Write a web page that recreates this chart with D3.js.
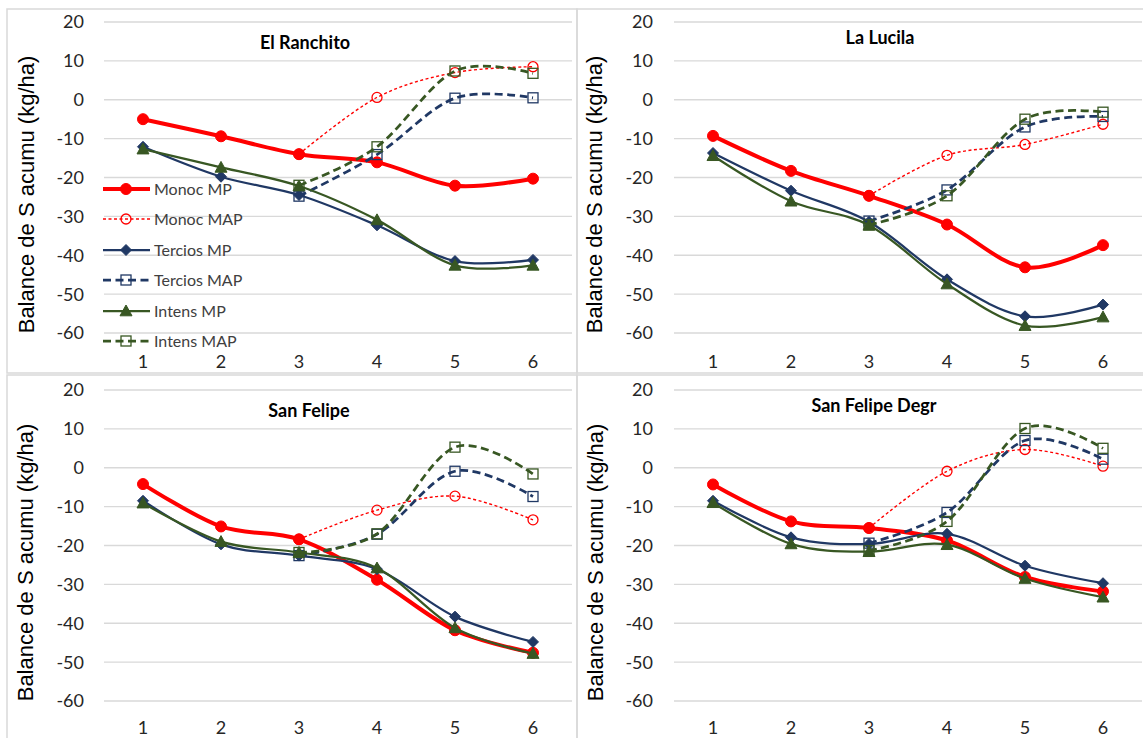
<!DOCTYPE html>
<html>
<head>
<meta charset="utf-8">
<script src="https://cdn.jsdelivr.net/npm/d3@7"></script>
<style>
body{margin:0;background:#fff;}
svg{display:block;}
</style>
</head>
<body>
<svg id="chart" width="1143" height="738"></svg>
<script>
// categorias eje x
var categories=["1","2","3","4","5","6"];
var yTicks=[20,10,0,-10,-20,-30,-40,-50,-60];
var seriesNames=["Monoc MP","Monoc MAP","Tercios MP","Tercios MAP","Intens MP","Intens MAP"];
var panelTitles=["El Ranchito","La Lucila","San Felipe","San Felipe Degr"];
var yTitle="Balance de S acumu (kg/ha)";

// valores leidos por sitio (null = sin dato)
var elRanchito=[
	[-5.0,-9.4,-14.0,-16.1,-22.1,-20.3],
	[null,null,-14.0,0.6,7.0,8.5],
	[-12.1,-19.8,-24.5,-32.3,-41.5,-41.2],
	[null,null,-24.8,-14.1,0.4,0.5],
	[-12.7,-17.4,-22.2,-30.9,-42.6,-42.6],
	[null,null,-22.0,-12.1,7.4,6.8]
];
var laLucila=[
	[-9.3,-18.3,-24.7,-32.1,-43.1,-37.4],
	[null,null,-24.7,-14.3,-11.5,-6.3],
	[-13.7,-23.4,-31.4,-46.2,-55.7,-52.7],
	[null,null,-31.2,-23.2,-7.0,-4.3],
	[-14.4,-26.1,-32.3,-47.4,-58.1,-55.9],
	[null,null,-32.2,-24.7,-5.0,-3.2]
];
var sanFelipe=[
	[-4.2,-15.1,-18.4,-28.8,-41.8,-47.6],
	[null,null,-18.4,-10.9,-7.3,-13.4],
	[-8.5,-19.7,-22.6,-26.1,-38.3,-44.8],
	[null,null,-22.6,-17.1,-0.9,-7.4],
	[-9.1,-19.0,-21.8,-25.8,-41.2,-47.8],
	[null,null,-21.8,-17.0,5.3,-1.6]
];
var sanFelipeDegr=[
	[-4.3,-13.8,-15.5,-18.7,-28.1,-31.8],
	[null,null,-15.5,-0.9,4.7,0.4],
	[-8.5,-17.9,-19.6,-17.0,-25.2,-29.7],
	[null,null,-19.4,-11.5,7.0,2.2],
	[-9.0,-19.6,-21.6,-19.8,-28.5,-33.3],
	[null,null,-21.3,-13.8,10.1,5.0]
];
var panelData=[elRanchito,laLucila,sanFelipe,sanFelipeDegr];

var red="#ff0000",navy="#203864",green="#385723";
var styles=[
	{color:red,width:4,dash:null,marker:"circle",fill:true,size:5.5},
	{color:red,width:1.4,dash:"3,2.5",marker:"circle",fill:false,size:5},
	{color:navy,width:2.25,dash:null,marker:"diamond",fill:true,size:5.5},
	{color:navy,width:2.75,dash:"8,4.5",marker:"square",fill:false,size:5},
	{color:green,width:2.25,dash:null,marker:"triangle",fill:true,size:6},
	{color:green,width:2.75,dash:"8,4.5",marker:"square",fill:false,size:5}
];

var layout=[
	{bx:7,by:9,bw:570,bh:364,left:104,right:572,top:22,bottom:333,tx:305,ty:49,lab:84,ax:26,xl:368},
	{bx:577,by:9,bw:570,bh:364,left:674,right:1142,top:22,bottom:333,tx:880,ty:44,lab:653,ax:594,xl:368},
	{bx:7,by:375,bw:570,bh:370,left:104,right:572,top:390,bottom:701,tx:309,ty:417,lab:84,ax:25,xl:734},
	{bx:577,by:375,bw:570,bh:370,left:674,right:1142,top:390,bottom:701,tx:874,ty:412,lab:653,ax:595,xl:734}
];

var svg=d3.select("#chart");

function drawMarker(g,type,x,y,st){
	var m;
	if(type=="circle"){
		m=g.append("circle").attr("cx",x).attr("cy",y).attr("r",st.size);
	}else if(type=="square"){
		m=g.append("rect").attr("x",x-st.size).attr("y",y-st.size).attr("width",st.size*2).attr("height",st.size*2);
	}else if(type=="diamond"){
		var s=st.size;
		m=g.append("path").attr("d","M"+x+","+(y-s)+"L"+(x+s)+","+y+"L"+x+","+(y+s)+"L"+(x-s)+","+y+"Z");
	}else{
		var s=st.size;
		m=g.append("path").attr("d","M"+x+","+(y-s)+"L"+(x+s)+","+(y+s*0.8)+"L"+(x-s)+","+(y+s*0.8)+"Z");
	}
	if(st.fill){
		m.attr("fill",st.color).attr("stroke",st.color).attr("stroke-width",1);
	}else{
		m.attr("fill","none").attr("stroke",st.color).attr("stroke-width",1.3);
	}
}

function drawPanel(p,data,title){
	var L=layout[p];
	var g=svg.append("g");

	g.append("rect").attr("x",L.bx).attr("y",L.by).attr("width",L.bw).attr("height",L.bh)
		.attr("fill","none").attr("stroke","#d9d9d9").attr("stroke-width",1.5);

	var x=d3.scalePoint().domain(categories).range([L.left,L.right]).padding(0.5);
	var y=d3.scaleLinear().domain([-60,20]).range([L.bottom,L.top]);

	// grid
	g.selectAll(".grid").data(yTicks).enter().append("line")
		.attr("x1",L.left).attr("x2",L.right)
		.attr("y1",d=>y(d)).attr("y2",d=>y(d))
		.attr("stroke","#d9d9d9").attr("stroke-width",1.3);

	g.selectAll(".ylab").data(yTicks).enter().append("text")
		.attr("x",L.lab).attr("y",d=>y(d)).attr("dy","0.36em")
		.attr("text-anchor","end")
		.style("font-family","Lato, sans-serif").style("font-size","18px").attr("fill","#262626")
		.text(d=>d);

	g.selectAll(".xlab").data(categories).enter().append("text")
		.attr("x",d=>x(d)).attr("y",L.xl)
		.attr("text-anchor","middle")
		.style("font-family","Lato, sans-serif").style("font-size","18px").attr("fill","#262626")
		.text(d=>d);

	g.append("text")
		.attr("transform","translate("+L.ax+","+((L.top+L.bottom)/2+17)+") rotate(-90)")
		.attr("text-anchor","middle").attr("dy","0.36em")
		.style("font-family","'Liberation Sans', Arial, sans-serif").style("font-size","22px").attr("fill","#000")
		.text(yTitle);

	g.append("text").attr("x",L.tx).attr("y",L.ty).attr("text-anchor","middle")
		.style("font-family","Lato, sans-serif").style("font-size","18px").style("font-weight","bold").attr("fill","#000")
		.text(title);

	var line=d3.line()
		.defined(d=>d.v!=null)
		.x(d=>x(d.c)).y(d=>y(d.v))
		.curve(d3.curveCardinal.tension(0));

	for(var s=0;s<data.length;s++){
		var st=styles[s];
		var pts=categories.map(function(c,i){return {c:c,v:data[s][i]};});
		var path=g.append("path").datum(pts.filter(d=>d.v!=null)).attr("d",line)
			.attr("fill","none").attr("stroke",st.color).attr("stroke-width",st.width)
			.attr("stroke-linejoin","round");
		if(st.dash) path.attr("stroke-dasharray",st.dash);
		pts.forEach(function(d){
			if(d.v!=null) drawMarker(g,st.marker,x(d.c),y(d.v),st);
		});
	}
}

function drawLegend(){
	var g=svg.append("g");
	var rows=[189,219,250,280,311,341];
	for(var i=0;i<seriesNames.length;i++){
		var st=styles[i];
		var ln=g.append("line").attr("x1",103).attr("x2",150).attr("y1",rows[i]).attr("y2",rows[i])
			.attr("stroke",st.color).attr("stroke-width",st.width);
		if(st.dash) ln.attr("stroke-dasharray",st.dash);
		drawMarker(g,st.marker,126,rows[i],st);
		g.append("text").attr("x",154).attr("y",rows[i]).attr("dy","0.35em")
			.style("font-family","Lato, sans-serif").style("font-size","16px").attr("fill","#404040")
			.text(seriesNames[i]);
	}
}

for(var p=0;p<4;p++){
	drawPanel(p,panelData[p],panelTitles[p]);
}
drawLegend();
</script>
</body>
</html>
